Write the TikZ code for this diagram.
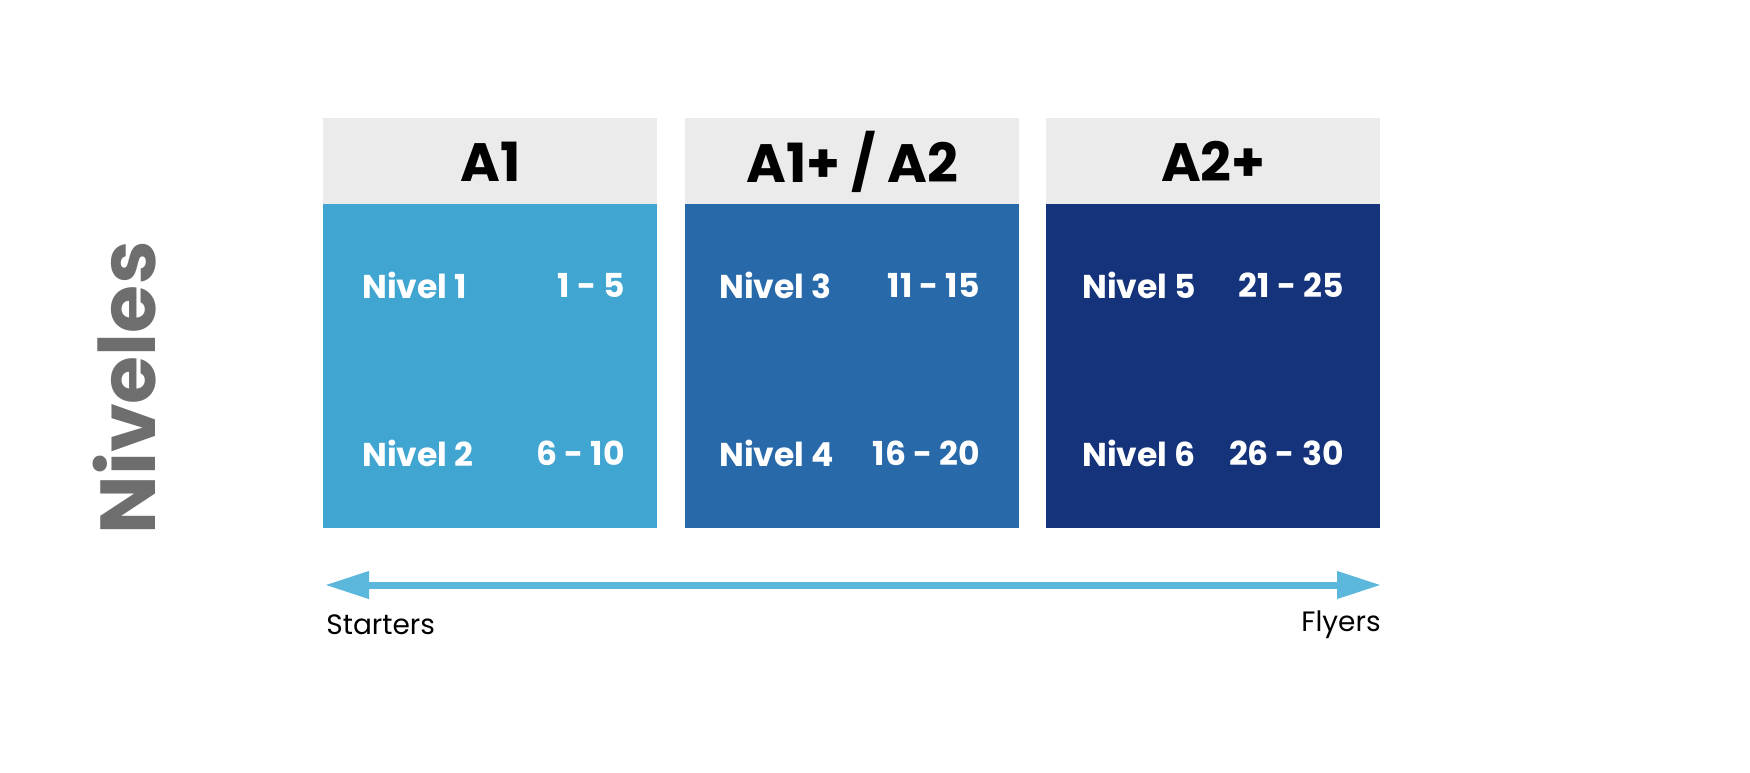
\documentclass[tikz,border=0pt]{standalone}
\usepackage{fontspec}
\setmainfont{Poppins}
\usetikzlibrary{arrows.meta}
\definecolor{hdr}{HTML}{EBEBEB}
\definecolor{ba}{HTML}{41A5D2}
\definecolor{bb}{HTML}{2869AA}
\definecolor{bc}{HTML}{15337B}
\definecolor{arr}{HTML}{5BB8DC}
\definecolor{gr}{HTML}{6E6E6E}
\begin{document}
\begin{tikzpicture}[x=0.5pt,y=-0.5pt,
 hd/.style={fill=hdr,draw=none,minimum width=167pt,minimum height=43pt,anchor=north west,inner sep=0pt,font=\fontsize{27}{29}\selectfont\bfseries},
 bd/.style={draw=none,minimum width=167pt,minimum height=162pt,anchor=north west,inner sep=0pt},
 lv/.style={text=white,font=\fontsize{16.5}{18}\selectfont\bfseries,inner sep=0pt},
 lb/.style={font=\fontsize{14}{16}\selectfont,inner sep=0pt}]
\useasboundingbox (0,0) rectangle (1750,772);
\fill[white] (0,0) rectangle (1750,772);
\node[hd] (h1) at (323,118) {A1};
\node[hd] (h2) at (685,118) {A1+ / A2};
\node[hd] (h3) at (1046,118) {A2+};
\node[bd,fill=ba] (b1) at (323,204) {};
\node[bd,fill=bb] (b2) at (685,204) {};
\node[bd,fill=bc] (b3) at (1046,204) {};
\node[lv,anchor=west] (n1) at (362,285) {Nivel 1};
\node[lv,anchor=east] (r1) at (625,285) {1 - 5};
\node[lv,anchor=west] (n2) at (362,453) {Nivel 2};
\node[lv,anchor=east] (r2) at (625,453) {6 - 10};
\node[lv,anchor=west] (n3) at (719,285) {Nivel 3};
\node[lv,anchor=east] (r3) at (980,285) {11 - 15};
\node[lv,anchor=west] (n4) at (719,453) {Nivel 4};
\node[lv,anchor=east] (r4) at (980,453) {16 - 20};
\node[lv,anchor=west] (n5) at (1082,285) {Nivel 5};
\node[lv,anchor=east] (r5) at (1344,285) {21 - 25};
\node[lv,anchor=west] (n6) at (1082,453) {Nivel 6};
\node[lv,anchor=east] (r6) at (1344,453) {26 - 30};
\coordinate (al) at (325,585);
\coordinate (ar) at (1381,585);
\draw[arr,line width=3.5pt,{Triangle[length=22pt,width=13pt]}-{Triangle[length=22pt,width=13pt]}] (al) -- (ar);
\node[lb,anchor=west] (s) at (326,625) {Starters};
\node[lb,anchor=east] (f) at (1381,625) {Flyers};
\node[text=gr,rotate=90,font=\fontsize{39}{41}\selectfont\bfseries,inner sep=0pt] (nv) at (125,388) {Niveles};
\end{tikzpicture}
\end{document}
